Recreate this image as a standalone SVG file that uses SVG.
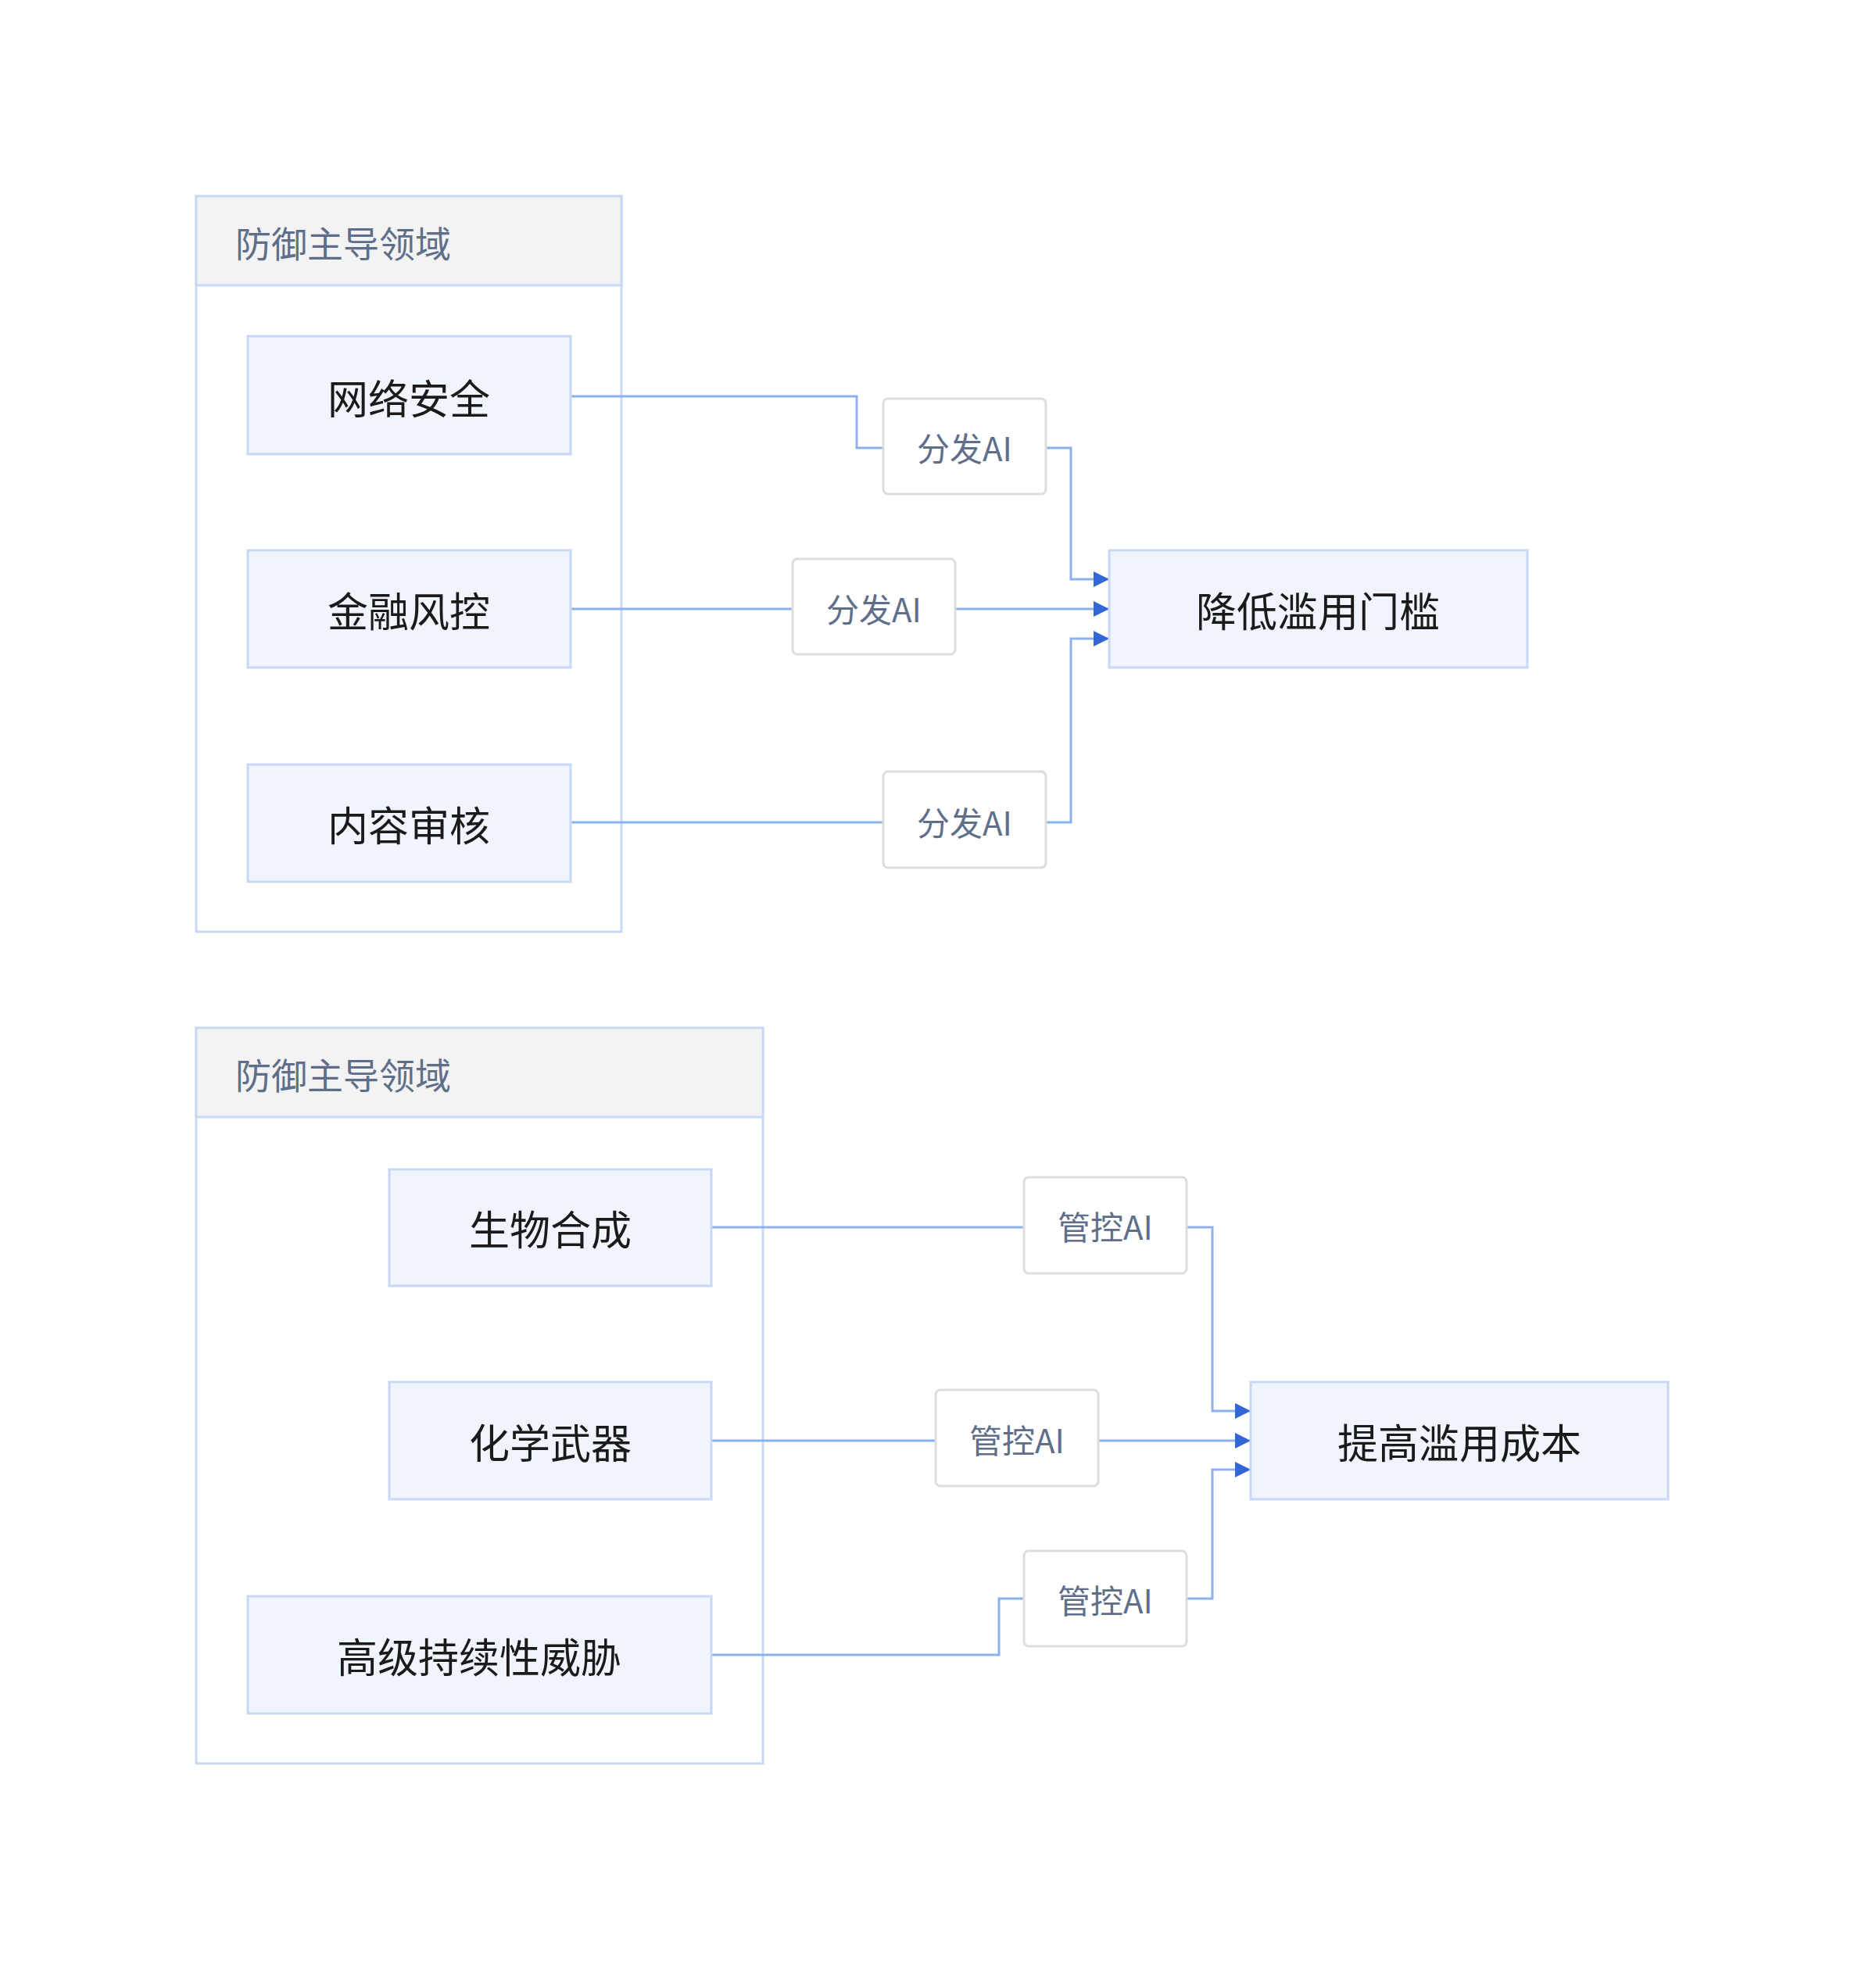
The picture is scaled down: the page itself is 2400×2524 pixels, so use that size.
<svg xmlns="http://www.w3.org/2000/svg" width="2400" height="2524" viewBox="0 0 2400 2524">
<style>
text{font-family:"Noto Sans CJK SC","Noto Sans",sans-serif;text-anchor:middle;dominant-baseline:central}
.grp{fill:#fff;stroke:#c9d8f5;stroke-width:3}
.hdr{fill:#f3f3f3;stroke:#c9d8f5;stroke-width:3}
.ht{font-size:46px;fill:#5f6f8a;text-anchor:start}
.nd{fill:#eff4fd;stroke:#c9d8f5;stroke-width:3}
.nt{font-size:52px;fill:#1a1a1a}
.lb{fill:#fff;stroke:#dddddd;stroke-width:3}
.lt{font-size:42px;fill:#5f6f8a}
.e{fill:none;stroke:#8fb0ee;stroke-width:3}
</style>
<defs><marker id="a" viewBox="0 0 10 10" refX="10" refY="5" markerWidth="10" markerHeight="10" markerUnits="userSpaceOnUse" orient="auto"><path d="M0,0L10,5L0,10z" fill="#3367d6"/></marker>
<marker id="ah" viewBox="0 0 10 10" refX="10" refY="5" markerWidth="28" markerHeight="20" markerUnits="userSpaceOnUse" orient="auto"><path d="M0,0L10,5L0,10z" fill="#3367d6"/></marker></defs>
<g id="g1"><rect class="grp" x="251" y="251" width="544" height="941"/><rect class="hdr" x="251" y="251" width="544" height="114"/><text class="ht" x="301" y="309">防御主导领域</text></g>
<g id="g2"><rect class="grp" x="251" y="1315" width="725" height="941"/><rect class="hdr" x="251" y="1315" width="725" height="114"/><text class="ht" x="301" y="1373">防御主导领域</text></g>
<g id="edges">
<path class="e" d="M730,507H1096V573H1130"/>
<path class="e" d="M1338,573H1370V741H1419" marker-end="url(#ah)"/>
<path class="e" d="M730,779H1014"/>
<path class="e" d="M1222,779H1419" marker-end="url(#ah)"/>
<path class="e" d="M730,1052H1130"/>
<path class="e" d="M1338,1052H1370V817H1419" marker-end="url(#ah)"/>
<path class="e" d="M910,1570H1310"/>
<path class="e" d="M1518,1570H1551V1805H1600" marker-end="url(#ah)"/>
<path class="e" d="M910,1843H1197"/>
<path class="e" d="M1405,1843H1600" marker-end="url(#ah)"/>
<path class="e" d="M910,2117H1278V2045H1310"/>
<path class="e" d="M1518,2045H1551V1880H1600" marker-end="url(#ah)"/>
</g>
<g id="n1"><rect class="nd" x="317" y="430" width="413" height="151"/><text class="nt" x="523" y="507">网络安全</text></g>
<g id="n2"><rect class="nd" x="317" y="704" width="413" height="150"/><text class="nt" x="523" y="779">金融风控</text></g>
<g id="n3"><rect class="nd" x="317" y="978" width="413" height="150"/><text class="nt" x="523" y="1053">内容审核</text></g>
<g id="t1"><rect class="nd" x="1419" y="704" width="535" height="150"/><text class="nt" x="1686" y="779">降低滥用门槛</text></g>
<g id="l1"><rect class="lb" x="1130" y="510" width="208" height="122" rx="6"/><text class="lt" x="1234" y="571">分发AI</text></g>
<g id="l2"><rect class="lb" x="1014" y="715" width="208" height="122" rx="6"/><text class="lt" x="1118" y="777">分发AI</text></g>
<g id="l3"><rect class="lb" x="1130" y="987" width="208" height="123" rx="6"/><text class="lt" x="1234" y="1050">分发AI</text></g>
<g id="n4"><rect class="nd" x="498" y="1496" width="412" height="149"/><text class="nt" x="704" y="1570">生物合成</text></g>
<g id="n5"><rect class="nd" x="498" y="1768" width="412" height="150"/><text class="nt" x="704" y="1843">化学武器</text></g>
<g id="n6"><rect class="nd" x="317" y="2042" width="593" height="150"/><text class="nt" x="613" y="2117">高级持续性威胁</text></g>
<g id="t2"><rect class="nd" x="1600" y="1768" width="534" height="150"/><text class="nt" x="1867" y="1843">提高滥用成本</text></g>
<g id="l4"><rect class="lb" x="1310" y="1506" width="208" height="123" rx="6"/><text class="lt" x="1414" y="1567">管控AI</text></g>
<g id="l5"><rect class="lb" x="1197" y="1778" width="208" height="123" rx="6"/><text class="lt" x="1301" y="1840">管控AI</text></g>
<g id="l6"><rect class="lb" x="1310" y="1984" width="208" height="122" rx="6"/><text class="lt" x="1414" y="2045">管控AI</text></g>
</svg>
